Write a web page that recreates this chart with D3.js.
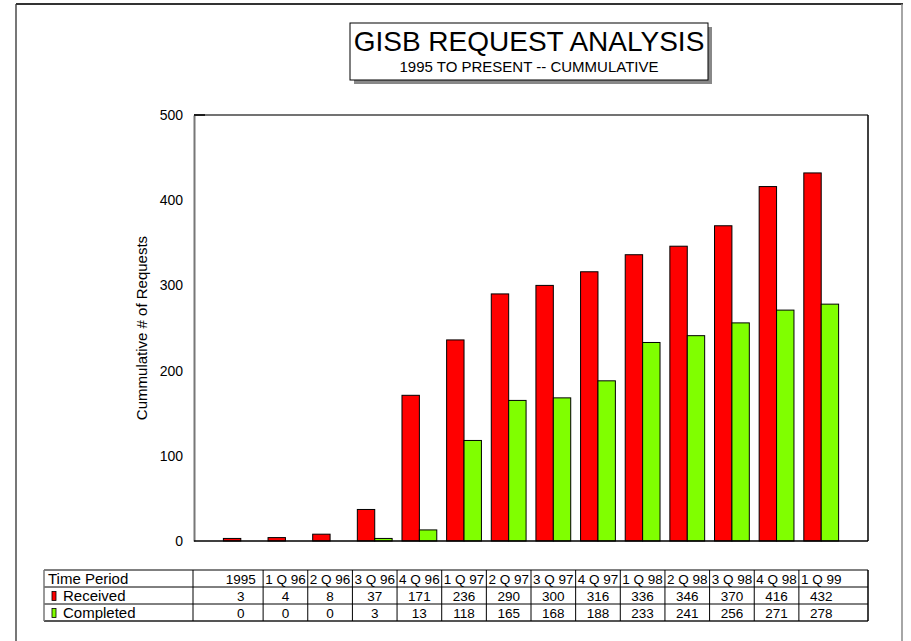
<html>
<head>
<script src="https://d3js.org/d3.v7.min.js"></script>
<style>
  body { margin: 0; background: #fff; }
  text { font-family: Arial, "Liberation Sans", sans-serif; fill: #000; }
</style>
</head>
<body>
<svg width="911" height="641"></svg>
<script>
  var periods = ["1995", "1 Q 96", "2 Q 96", "3 Q 96", "4 Q 96", "1 Q 97", "2 Q 97",
                 "3 Q 97", "4 Q 97", "1 Q 98", "2 Q 98", "3 Q 98", "4 Q 98", "1 Q 99"];
  var received = [3, 4, 8, 37, 171, 236, 290, 300, 316, 336, 346, 370, 416, 432];
  var completed = [0, 0, 0, 3, 13, 118, 165, 168, 188, 233, 241, 256, 271, 278];
  var yTicks = [0, 100, 200, 300, 400, 500];

  var svg = d3.select("svg");
  var plot = {left: 194, right: 868, top: 115, bottom: 541};

  // page border
  svg.append("line").attr("x1", 16).attr("x2", 16).attr("y1", 4).attr("y2", 641)
    .attr("stroke", "#777").attr("stroke-width", 2);
  svg.append("line").attr("x1", 16).attr("x2", 903).attr("y1", 4).attr("y2", 4)
    .attr("stroke", "#333").attr("stroke-width", 2);
  svg.append("line").attr("x1", 902).attr("x2", 902).attr("y1", 4).attr("y2", 641)
    .attr("stroke", "#888").attr("stroke-width", 1.5);

  // title box
  svg.append("rect").attr("x", 354).attr("y", 27).attr("width", 358).attr("height", 57)
    .attr("fill", "#888");
  svg.append("rect").attr("x", 350).attr("y", 23).attr("width", 358).attr("height", 57)
    .attr("fill", "#fff").attr("stroke", "#000").attr("stroke-width", 1);
  svg.append("text").attr("x", 529).attr("y", 51).attr("text-anchor", "middle")
    .style("font-size", "28px").text("GISB REQUEST ANALYSIS");
  svg.append("text").attr("x", 529).attr("y", 72).attr("text-anchor", "middle")
    .style("font-size", "15px").text("1995 TO PRESENT -- CUMMULATIVE");

  var x = d3.scaleBand()
    .domain(periods)
    .range([plot.left, plot.right])
    .paddingInner(0)
    .paddingOuter(0.548);
  var y = d3.scaleLinear()
    .domain([0, 500])
    .range([plot.bottom, plot.top]);

  var barW = 17.4;

  // plot frame top/right
  svg.append("line").attr("x1", plot.left).attr("x2", plot.right).attr("y1", plot.top).attr("y2", plot.top)
    .attr("stroke", "#444").attr("stroke-width", 1.5);
  svg.append("line").attr("x1", plot.right).attr("x2", plot.right).attr("y1", plot.top).attr("y2", plot.bottom)
    .attr("stroke", "#000").attr("stroke-width", 1.5);

  var gs = svg.selectAll(".grp")
    .data(periods)
    .enter()
    .append("g");

  gs.append("rect")
    .attr("x", function(d) { return x(d) + x.bandwidth() / 2 - barW; })
    .attr("y", function(d, i) { return y(received[i]); })
    .attr("width", barW)
    .attr("height", function(d, i) { return plot.bottom - y(received[i]); })
    .attr("fill", "#ff0000")
    .attr("stroke", "#000")
    .attr("stroke-width", 1);

  gs.append("rect")
    .attr("x", function(d) { return x(d) + x.bandwidth() / 2; })
    .attr("y", function(d, i) { return y(completed[i]); })
    .attr("width", barW)
    .attr("height", function(d, i) { return plot.bottom - y(completed[i]); })
    .attr("fill", "#80ff00")
    .attr("stroke", "#000")
    .attr("stroke-width", 1);

  // y axis
  var yAxis = d3.axisLeft(y).tickValues(yTicks).tickSize(0).tickPadding(11);
  var ya = svg.append("g")
    .attr("transform", "translate(" + plot.left + ",0)")
    .call(yAxis);
  ya.select(".domain").attr("stroke", "#777").attr("stroke-width", 2);
  ya.selectAll("text").style("font-size", "14px").attr("fill", "#000");
  // short dark tick at the top
  svg.append("line").attr("x1", plot.left).attr("x2", plot.left + 11).attr("y1", plot.top).attr("y2", plot.top)
    .attr("stroke", "#000").attr("stroke-width", 1.5);

  // baseline
  svg.append("line").attr("x1", plot.left).attr("x2", plot.right).attr("y1", plot.bottom).attr("y2", plot.bottom)
    .attr("stroke", "#000").attr("stroke-width", 1.5);

  svg.append("text")
    .attr("transform", "translate(147," + ((plot.top + plot.bottom) / 2) + ") rotate(-90)")
    .attr("text-anchor", "middle")
    .style("font-size", "15px")
    .text("Cummulative # of Requests");

  // data table
  var tbl = {left: 44, top: 570, rowH: 17};
  var rows = [
    {label: "Time Period", vals: periods, color: null},
    {label: "Received", vals: received, color: "#ff0000"},
    {label: "Completed", vals: completed, color: "#80ff00"}
  ];
  var tg = svg.append("g");
  var tBottom = tbl.top + tbl.rowH * rows.length;

  rows.forEach(function(r, ri) {
    var ty = tbl.top + ri * tbl.rowH;
    tg.append("line").attr("x1", tbl.left).attr("x2", plot.right)
      .attr("y1", ty).attr("y2", ty).attr("stroke", "#000").attr("stroke-width", 1);
    var tx = tbl.left + 4;
    if (r.color) {
      tg.append("rect").attr("x", tbl.left + 8).attr("y", ty + 4.5).attr("width", 4).attr("height", 9)
        .attr("fill", r.color).attr("stroke", "#000").attr("stroke-width", 0.8);
      tx = tbl.left + 19;
    }
    tg.append("text").attr("x", tx).attr("y", ty + 14)
      .style("font-size", "15px").text(r.label);
    tg.selectAll(null)
      .data(r.vals)
      .enter()
      .append("text")
      .attr("x", function(d, i) { return x(periods[i]) + x.bandwidth() / 2; })
      .attr("y", ty + 13.5)
      .attr("text-anchor", "middle")
      .style("font-size", "13.5px")
      .text(function(d) { return d; });
  });
  tg.append("line").attr("x1", tbl.left).attr("x2", plot.right)
    .attr("y1", tBottom).attr("y2", tBottom).attr("stroke", "#555").attr("stroke-width", 2);
  tg.append("line").attr("x1", tbl.left).attr("x2", tbl.left)
    .attr("y1", tbl.top).attr("y2", tBottom).attr("stroke", "#777").attr("stroke-width", 1.5);
  tg.append("line").attr("x1", plot.right).attr("x2", plot.right)
    .attr("y1", tbl.top).attr("y2", tBottom).attr("stroke", "#000").attr("stroke-width", 1.5);
  tg.append("line").attr("x1", plot.left - 1).attr("x2", plot.left - 1)
    .attr("y1", tbl.top).attr("y2", tBottom).attr("stroke", "#000").attr("stroke-width", 1);
  // column dividers between periods
  tg.selectAll(".div")
    .data(periods.slice(1))
    .enter()
    .append("line")
    .attr("x1", function(d) { return x(d); })
    .attr("x2", function(d) { return x(d); })
    .attr("y1", tbl.top).attr("y2", tBottom)
    .attr("stroke", "#000").attr("stroke-width", 1);
</script>
</body>
</html>
